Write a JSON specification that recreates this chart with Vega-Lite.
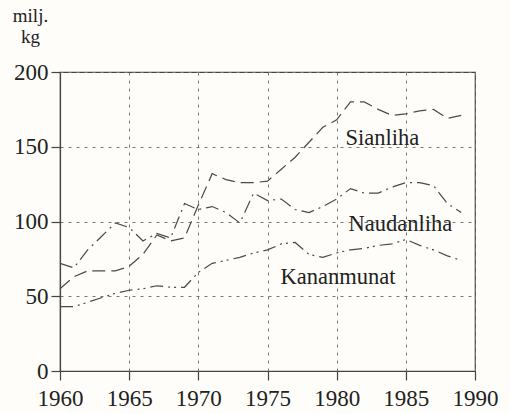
{
  "$schema": "https://vega.github.io/schema/vega-lite/v6.json",
  "width": 415,
  "height": 299,
  "autosize": {"type": "none"},
  "padding": {"left": 60, "top": 72, "right": 35, "bottom": 42},
  "background": "#fefdf9",
  "view": {"stroke": "#444", "strokeWidth": 1.2},
  "config": {
    "font": "Liberation Serif",
    "axis": {
      "labelFont": "Liberation Serif",
      "labelFontSize": 23,
      "labelColor": "#222",
      "domainColor": "#444",
      "domainWidth": 1.2,
      "tickColor": "#444",
      "tickWidth": 1.2,
      "tickSize": 9,
      "gridColor": "#777",
      "gridDash": [3, 5],
      "gridWidth": 1
    }
  },
  "datasets": {
    "series": [
      {"year": 1960, "series": "Sianliha", "value": 55},
      {"year": 1961, "series": "Sianliha", "value": 63},
      {"year": 1962, "series": "Sianliha", "value": 67},
      {"year": 1963, "series": "Sianliha", "value": 67},
      {"year": 1964, "series": "Sianliha", "value": 67},
      {"year": 1965, "series": "Sianliha", "value": 70},
      {"year": 1966, "series": "Sianliha", "value": 78},
      {"year": 1967, "series": "Sianliha", "value": 91},
      {"year": 1968, "series": "Sianliha", "value": 87},
      {"year": 1969, "series": "Sianliha", "value": 89},
      {"year": 1970, "series": "Sianliha", "value": 111},
      {"year": 1971, "series": "Sianliha", "value": 132},
      {"year": 1972, "series": "Sianliha", "value": 128},
      {"year": 1973, "series": "Sianliha", "value": 126},
      {"year": 1974, "series": "Sianliha", "value": 126},
      {"year": 1975, "series": "Sianliha", "value": 127},
      {"year": 1976, "series": "Sianliha", "value": 135},
      {"year": 1977, "series": "Sianliha", "value": 143},
      {"year": 1978, "series": "Sianliha", "value": 153},
      {"year": 1979, "series": "Sianliha", "value": 163},
      {"year": 1980, "series": "Sianliha", "value": 168},
      {"year": 1981, "series": "Sianliha", "value": 180},
      {"year": 1982, "series": "Sianliha", "value": 180},
      {"year": 1983, "series": "Sianliha", "value": 175},
      {"year": 1984, "series": "Sianliha", "value": 171},
      {"year": 1985, "series": "Sianliha", "value": 172},
      {"year": 1986, "series": "Sianliha", "value": 174},
      {"year": 1987, "series": "Sianliha", "value": 175},
      {"year": 1988, "series": "Sianliha", "value": 169},
      {"year": 1989, "series": "Sianliha", "value": 171},
      {"year": 1960, "series": "Naudanliha", "value": 72},
      {"year": 1961, "series": "Naudanliha", "value": 69},
      {"year": 1962, "series": "Naudanliha", "value": 81},
      {"year": 1963, "series": "Naudanliha", "value": 90},
      {"year": 1964, "series": "Naudanliha", "value": 99},
      {"year": 1965, "series": "Naudanliha", "value": 96},
      {"year": 1966, "series": "Naudanliha", "value": 87},
      {"year": 1967, "series": "Naudanliha", "value": 92},
      {"year": 1968, "series": "Naudanliha", "value": 89},
      {"year": 1969, "series": "Naudanliha", "value": 112},
      {"year": 1970, "series": "Naudanliha", "value": 108},
      {"year": 1971, "series": "Naudanliha", "value": 110},
      {"year": 1972, "series": "Naudanliha", "value": 106},
      {"year": 1973, "series": "Naudanliha", "value": 99},
      {"year": 1974, "series": "Naudanliha", "value": 119},
      {"year": 1975, "series": "Naudanliha", "value": 114},
      {"year": 1976, "series": "Naudanliha", "value": 115},
      {"year": 1977, "series": "Naudanliha", "value": 108},
      {"year": 1978, "series": "Naudanliha", "value": 106},
      {"year": 1979, "series": "Naudanliha", "value": 110},
      {"year": 1980, "series": "Naudanliha", "value": 115},
      {"year": 1981, "series": "Naudanliha", "value": 122},
      {"year": 1982, "series": "Naudanliha", "value": 119},
      {"year": 1983, "series": "Naudanliha", "value": 119},
      {"year": 1984, "series": "Naudanliha", "value": 123},
      {"year": 1985, "series": "Naudanliha", "value": 126},
      {"year": 1986, "series": "Naudanliha", "value": 126},
      {"year": 1987, "series": "Naudanliha", "value": 124},
      {"year": 1988, "series": "Naudanliha", "value": 112},
      {"year": 1989, "series": "Naudanliha", "value": 106},
      {"year": 1960, "series": "Kananmunat", "value": 43},
      {"year": 1961, "series": "Kananmunat", "value": 43},
      {"year": 1962, "series": "Kananmunat", "value": 46},
      {"year": 1963, "series": "Kananmunat", "value": 49},
      {"year": 1964, "series": "Kananmunat", "value": 52},
      {"year": 1965, "series": "Kananmunat", "value": 54},
      {"year": 1966, "series": "Kananmunat", "value": 55},
      {"year": 1967, "series": "Kananmunat", "value": 57},
      {"year": 1968, "series": "Kananmunat", "value": 56},
      {"year": 1969, "series": "Kananmunat", "value": 56},
      {"year": 1970, "series": "Kananmunat", "value": 66},
      {"year": 1971, "series": "Kananmunat", "value": 72},
      {"year": 1972, "series": "Kananmunat", "value": 74},
      {"year": 1973, "series": "Kananmunat", "value": 76},
      {"year": 1974, "series": "Kananmunat", "value": 79},
      {"year": 1975, "series": "Kananmunat", "value": 81},
      {"year": 1976, "series": "Kananmunat", "value": 85},
      {"year": 1977, "series": "Kananmunat", "value": 86},
      {"year": 1978, "series": "Kananmunat", "value": 78},
      {"year": 1979, "series": "Kananmunat", "value": 76},
      {"year": 1980, "series": "Kananmunat", "value": 79},
      {"year": 1981, "series": "Kananmunat", "value": 81},
      {"year": 1982, "series": "Kananmunat", "value": 82},
      {"year": 1983, "series": "Kananmunat", "value": 84},
      {"year": 1984, "series": "Kananmunat", "value": 85},
      {"year": 1985, "series": "Kananmunat", "value": 88},
      {"year": 1986, "series": "Kananmunat", "value": 84},
      {"year": 1987, "series": "Kananmunat", "value": 81},
      {"year": 1988, "series": "Kananmunat", "value": 77},
      {"year": 1989, "series": "Kananmunat", "value": 74}
    ],
    "labels": [
      {"year": 1983.3, "value": 156, "label": "Sianliha"},
      {"year": 1984.6, "value": 98, "label": "Naudanliha"},
      {"year": 1980.1, "value": 63, "label": "Kananmunat"}
    ]
  },
  "encoding": {
    "x": {
      "field": "year",
      "type": "quantitative",
      "scale": {"domain": [1960, 1990], "nice": false, "zero": false},
      "axis": {
        "values": [1960, 1965, 1970, 1975, 1980, 1985, 1990],
        "format": "d",
        "title": null,
        "labelPadding": 7,
        "labelFlush": false
      }
    },
    "y": {
      "field": "value",
      "type": "quantitative",
      "scale": {"domain": [0, 200], "nice": false},
      "axis": {
        "values": [0, 50, 100, 150, 200],
        "title": ["milj.", "kg"],
        "titleAngle": 0,
        "titleFont": "Liberation Serif",
        "titleFontSize": 19,
        "titleFontWeight": "normal",
        "titleColor": "#222",
        "titleAlign": "center",
        "titleBaseline": "top",
        "titleLineHeight": 21,
        "titleX": -30,
        "titleY": -66,
        "labelPadding": 3,
        "labelFlush": false
      }
    }
  },
  "layer": [
    {
      "data": {"name": "series"},
      "mark": {"type": "line", "color": "#4a4a4a", "strokeWidth": 1.2},
      "encoding": {
        "detail": {"field": "series"},
        "strokeDash": {
          "field": "series",
          "type": "nominal",
          "scale": {
            "domain": ["Sianliha", "Naudanliha", "Kananmunat"],
            "range": [[13, 6], [13, 5, 2, 5], [13, 5, 2, 4, 2, 5]]
          },
          "legend": null
        }
      }
    },
    {
      "data": {"name": "labels"},
      "mark": {
        "type": "text",
        "font": "Liberation Serif",
        "fontSize": 22.5,
        "color": "#222",
        "align": "center",
        "baseline": "middle"
      },
      "encoding": {"text": {"field": "label"}}
    }
  ]
}
